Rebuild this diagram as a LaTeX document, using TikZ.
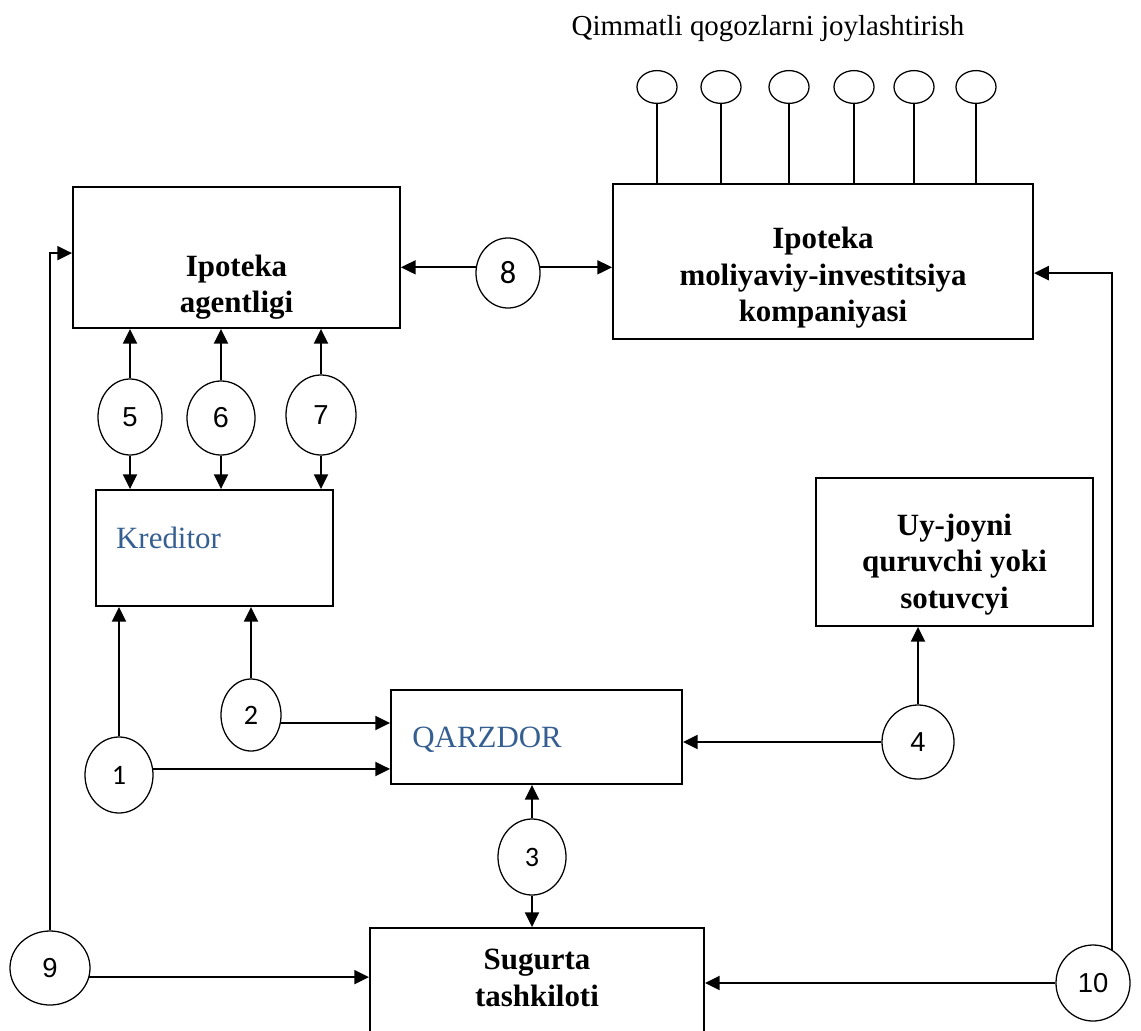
\documentclass[tikz,border=0pt]{standalone}
\usepackage{fontspec}
\setmainfont{Liberation Serif}
\newfontfamily\arialfont{Liberation Sans}
\newfontfamily\calibrifont{Carlito}
\usetikzlibrary{arrows.meta,shapes.geometric,positioning}
\definecolor{wordblue}{RGB}{54,95,145}
\tikzstyle{recNode} = [rectangle, draw=black, line width=1.3pt, inner sep=0pt]
\tikzstyle{txtNode} = [inner sep=0pt, align=center, font=\bfseries\fontsize{22}{25.9}\selectfont]
\tikzstyle{blueNode} = [inner sep=0pt, anchor=base west, text=wordblue, font=\fontsize{22}{25.9}\selectfont]
\tikzstyle{numNode} = [ellipse, draw=black, line width=0.9pt, inner sep=0pt, font=\arialfont\fontsize{19.5}{22}\selectfont]
\tikzstyle{numNodeC} = [numNode, font=\calibrifont\fontsize{20}{24}\selectfont]
\tikzstyle{secNode} = [ellipse, draw=black, line width=0.9pt, minimum width=1cm, minimum height=0.82cm, inner sep=0pt]
\tikzstyle{arrow} = [line width=1.3pt,-{Triangle[length=10.5pt,width=10pt]},draw=black]
\tikzstyle{stem} = [line width=1.1pt]

\begin{document}
\begin{tikzpicture}[x=0.025cm, y=-0.025cm]
    \useasboundingbox (0,0) rectangle (1141,1030);
    \clip (0,0) rectangle (1141,1030);

    \node (title) [anchor=base, inner sep=0pt, font=\fontsize{20.6}{24}\selectfont] at (768,36) {Qimmatli qogozlarni joylashtirish};

    \node (agency) [recNode, minimum width=8.175cm, minimum height=3.525cm] at (236.5,257.5) {};
    \node (company) [recNode, minimum width=10.5cm, minimum height=3.875cm] at (823,261.5) {};
    \node (creditor) [recNode, minimum width=5.925cm, minimum height=2.9cm] at (214.5,548) {};
    \node (debtor) [recNode, minimum width=7.275cm, minimum height=2.35cm] at (536.5,737) {};
    \node (builder) [recNode, minimum width=6.925cm, minimum height=3.7cm] at (954.5,552) {};
    \node (insurer) [recNode, minimum width=8.35cm, minimum height=2.925cm] at (537,986.5) {};

    \node (agencyT) [txtNode] at ([yshift=-0.74cm]agency.center) {Ipoteka\\agentligi};
    \node (companyT) [txtNode] at ([yshift=-0.41cm]company.center) {Ipoteka\\moliyaviy-investitsiya\\kompaniyasi};
    \node (builderT) [txtNode] at ([yshift=-0.31cm]builder.center) {Uy-joyni\\quruvchi yoki\\sotuvcyi};
    \node (insurerT) [txtNode] at ([yshift=0.21cm]insurer.center) {Sugurta\\tashkiloti};
    \node (creditorT) [blueNode] at ([xshift=0.52cm]creditor.west) {Kreditor};
    \node (debtorT) [blueNode] at ([xshift=0.55cm,yshift=-0.25cm]debtor.west) {QARZDOR};

    % securities placed on the market
    \node (s1) [secNode] at (657,87) {};
    \node (s2) [secNode] at (721,87) {};
    \node (s3) [secNode] at (789,87) {};
    \node (s4) [secNode] at (854,87) {};
    \node (s5) [secNode] at (914,87) {};
    \node (s6) [secNode] at (976,87) {};
    \draw [stem] (s1.south) -- (s1.south |- company.north);
    \draw [stem] (s2.south) -- (s2.south |- company.north);
    \draw [stem] (s3.south) -- (s3.south |- company.north);
    \draw [stem] (s4.south) -- (s4.south |- company.north);
    \draw [stem] (s5.south) -- (s5.south |- company.north);
    \draw [stem] (s6.south) -- (s6.south |- company.north);

    \node (n1) [numNodeC, minimum width=1.7cm, minimum height=1.9cm] at (119,775) {1};
    \node (n2) [numNodeC, minimum width=1.5cm, minimum height=1.8cm] at (251,715) {2};
    \node (n3) [numNodeC, minimum width=1.7cm, minimum height=1.9cm] at (532,857) {3};
    \node (n4) [numNode, minimum width=1.8cm, minimum height=1.85cm] at (918,742) {4};
    \node (n5) [numNode, minimum width=1.6cm, minimum height=1.9cm] at (130,417) {5};
    \node (n6) [numNode, minimum width=1.7cm, minimum height=1.85cm, font=\arialfont\fontsize{20.5}{24}\selectfont] at (221,418) {6};
    \node (n7) [numNode, minimum width=1.75cm, minimum height=2cm] at (321,415) {7};
    \node (n8) [numNodeC, minimum width=1.6cm, minimum height=1.75cm, font=\calibrifont\fontsize{23}{26}\selectfont] at (508,273) {8};
    \node (n9) [numNode, minimum width=2cm, minimum height=1.85cm] at (50,968) {9};
    \node (n10) [numNode, minimum width=1.85cm, minimum height=1.9cm] at (1093,983) {10};

    \draw [arrow] (n1.north) -- (n1.north |- creditor.south);
    \draw [arrow] (n1.10) -- (n1.10 -| debtor.west);
    \draw [arrow] (n2.north) -- (n2.north |- creditor.south);
    \draw [arrow] (n2.-15) -- (n2.-15 -| debtor.west);
    \draw [arrow] (n3.north) -- (n3.north |- debtor.south);
    \draw [arrow] (n3.south) -- (n3.south |- insurer.north);
    \draw [arrow] (n4.north) -- (n4.north |- builder.south);
    \draw [arrow] (n4.west) -- (n4.west -| debtor.east);
    \draw [arrow] (n5.north) -- (n5.north |- agency.south);
    \draw [arrow] (n5.south) -- (n5.south |- creditor.north);
    \draw [arrow] (n6.north) -- (n6.north |- agency.south);
    \draw [arrow] (n6.south) -- (n6.south |- creditor.north);
    \draw [arrow] (n7.north) -- (n7.north |- agency.south);
    \draw [arrow] (n7.south) -- (n7.south |- creditor.north);
    \draw [arrow] (n8.170) -- (n8.170 -| agency.east);
    \draw [arrow] (n8.10) -- (n8.10 -| company.west);
    \draw [arrow] (n9.north) |- ([yshift=0.11cm]agency.west);
    \draw [arrow] (n9.-13) -- (n9.-13 -| insurer.west);
    \draw [arrow] (n10.60) |- ([yshift=-0.29cm]company.east);
    \draw [arrow] (n10.west) -- (n10.west -| insurer.east);
\end{tikzpicture}
\end{document}
